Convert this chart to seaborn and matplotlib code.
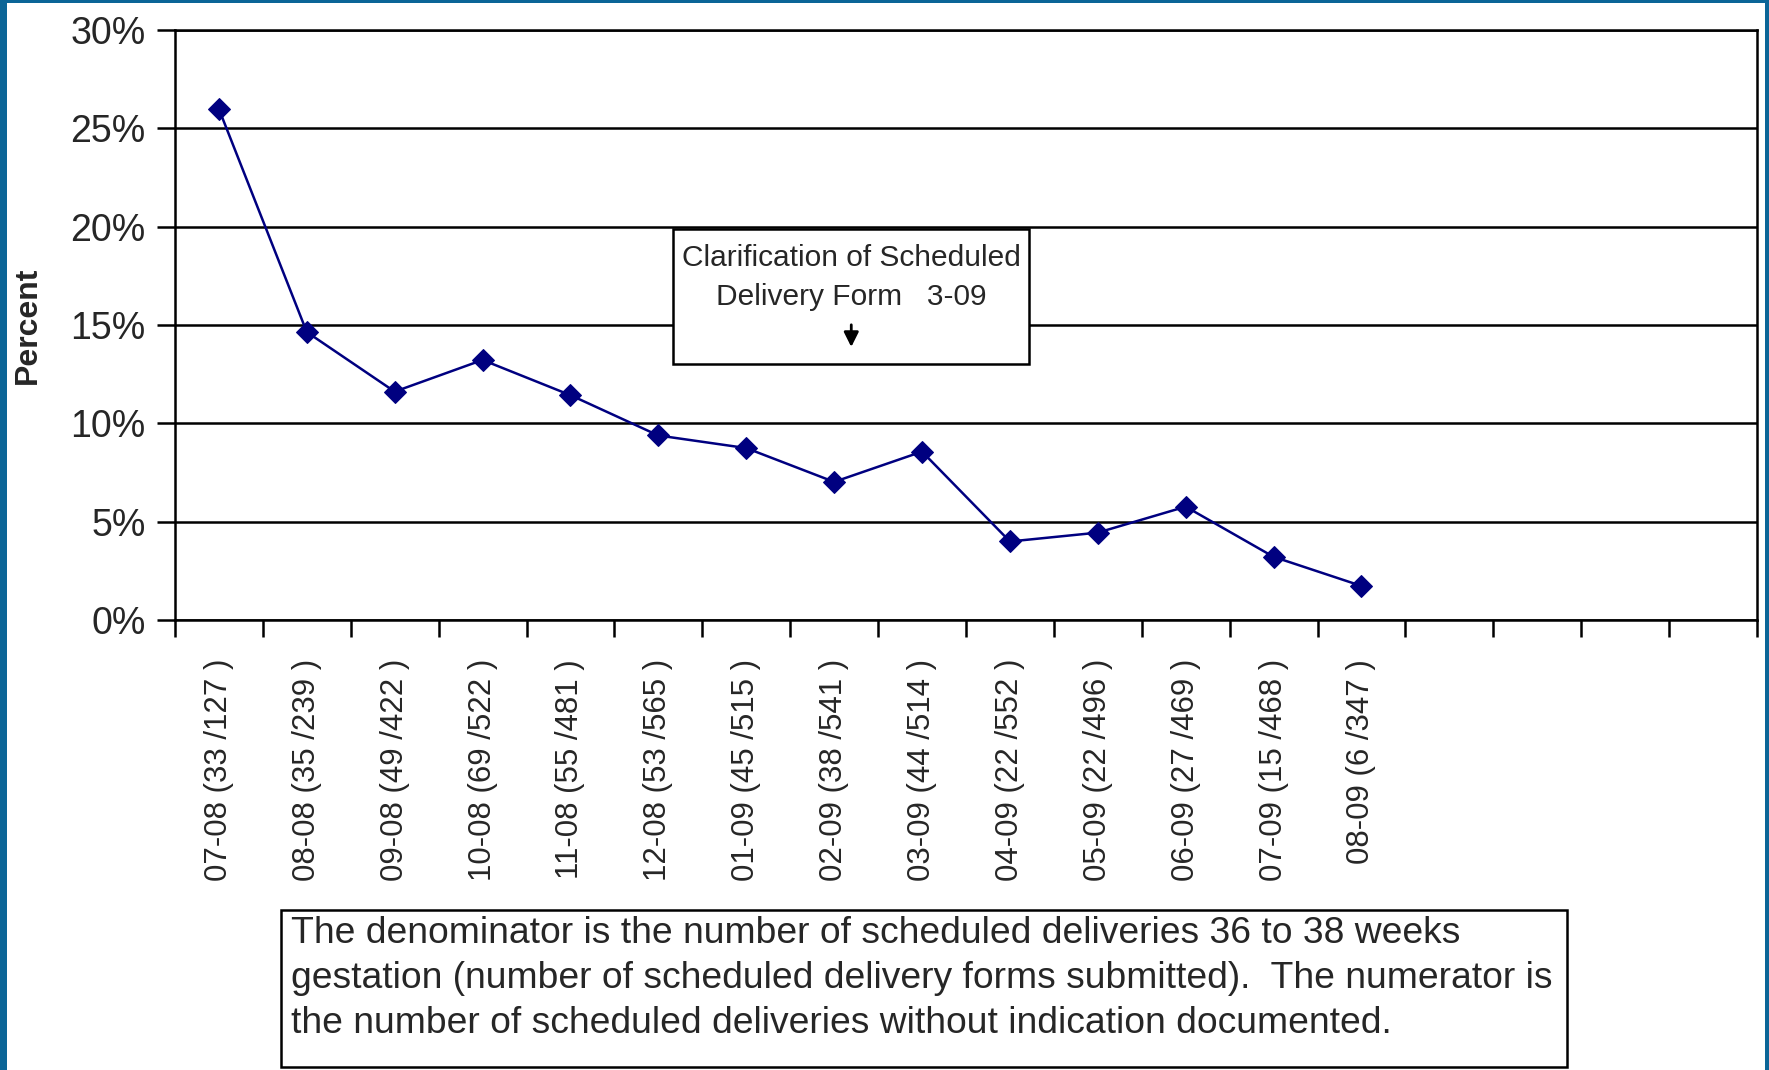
import numpy as np
import pandas as pd
import matplotlib
matplotlib.use('Agg')
import matplotlib.pyplot as plt
import seaborn as sns
from matplotlib.patches import Rectangle
from matplotlib.ticker import PercentFormatter

# values
months = ['07-08', '08-08', '09-08', '10-08', '11-08', '12-08', '01-09',
          '02-09', '03-09', '04-09', '05-09', '06-09', '07-09', '08-09']
num = [33, 35, 49, 69, 55, 53, 45, 38, 44, 22, 22, 27, 15, 6]
den = [127, 239, 422, 522, 481, 565, 515, 541, 514, 552, 496, 469, 468, 347]
pct = [25.98, 14.64, 11.61, 13.22, 11.43, 9.38, 8.74, 7.02, 8.56,
       3.99, 4.44, 5.76, 3.21, 1.73]
n_slots = 18  # category slots on the x axis (last four are empty)

note = ("The denominator is the number of scheduled deliveries 36 to 38 weeks\n"
        "gestation (number of scheduled delivery forms submitted).  The numerator is\n"
        "the number of scheduled deliveries without indication documented.")
box_text = "Clarification of Scheduled\nDelivery Form   3-09"

labels = [f'{m} ({a} /{b} )' for m, a, b in zip(months, num, den)]
df = pd.DataFrame({'pos': np.arange(len(pct)), 'pct': pct})

sns.set_style('white')
plt.rcParams['font.family'] = ['Liberation Sans', 'DejaVu Sans']

fig = plt.figure(figsize=(17.69, 10.70), dpi=100, facecolor='#0b6597')
fig.add_artist(Rectangle((0.004, 0), 0.994, 0.997, transform=fig.transFigure,
                         facecolor='white', edgecolor='none', zorder=0))
ax = fig.add_axes([0.0989, 0.4206, 0.8943, 0.5514])

sns.lineplot(data=df, x='pos', y='pct', ax=ax, color='#000080',
             marker='D', markersize=11, markeredgecolor='#000080',
             linewidth=1.8, zorder=4)

ax.set_xlim(-0.5, n_slots - 0.5)
ax.set_ylim(0, 30)
ax.set_yticks(range(0, 31, 5))
ax.yaxis.set_major_formatter(PercentFormatter(decimals=0))
ax.grid(axis='y', color='black', linewidth=1.8)
ax.grid(axis='x', visible=False)
ax.set_axisbelow(True)

ax.set_xticks(np.arange(-0.5, n_slots, 1))
ax.set_xticklabels([])
ax.set_xticks(np.arange(len(labels)), minor=True)
ax.set_xticklabels(labels, minor=True, rotation=90, va='top')
ax.tick_params(axis='x', which='minor', length=0, pad=28, labelsize=22.5)
ax.tick_params(axis='x', which='major', length=12, width=1.8,
               direction='out', bottom=True, color='black')
ax.tick_params(axis='y', length=13, width=1.8, direction='out', left=True,
               pad=8, labelsize=27, color='black')
ax.set_xlabel('')
ax.set_ylabel('Percent', fontsize=23, fontweight='bold')
ax.yaxis.set_label_coords(-0.093, 0.5)
ax.yaxis.label.set_va('center')

for side in ['left', 'right', 'bottom', 'top']:
    ax.spines[side].set_color('black')
    ax.spines[side].set_linewidth(1.8)

# annotation box inside the plot
ax.add_patch(Rectangle((0.315, 0.434), 0.225, 0.229, transform=ax.transAxes,
                       facecolor='white', edgecolor='black', lw=1.8, zorder=5))
ax.text(0.4275, 0.58, box_text, transform=ax.transAxes, ha='center',
        va='center', fontsize=21.5, linespacing=1.5, zorder=6)
ax.annotate('', xy=(0.4275, 0.458), xytext=(0.4275, 0.505),
            xycoords='axes fraction',
            arrowprops=dict(arrowstyle='-|>', color='black', lw=2,
                            mutation_scale=22), zorder=6)

# footnote box under the chart
fig.add_artist(Rectangle((0.159, 0.003), 0.727, 0.147, transform=fig.transFigure,
                         facecolor='white', edgecolor='black', lw=1.8))
fig.text(0.1645, 0.1435, note, ha='left', va='top', fontsize=26.8, linespacing=1.37)

plt.savefig('out.png', dpi=100, facecolor=fig.get_facecolor())
